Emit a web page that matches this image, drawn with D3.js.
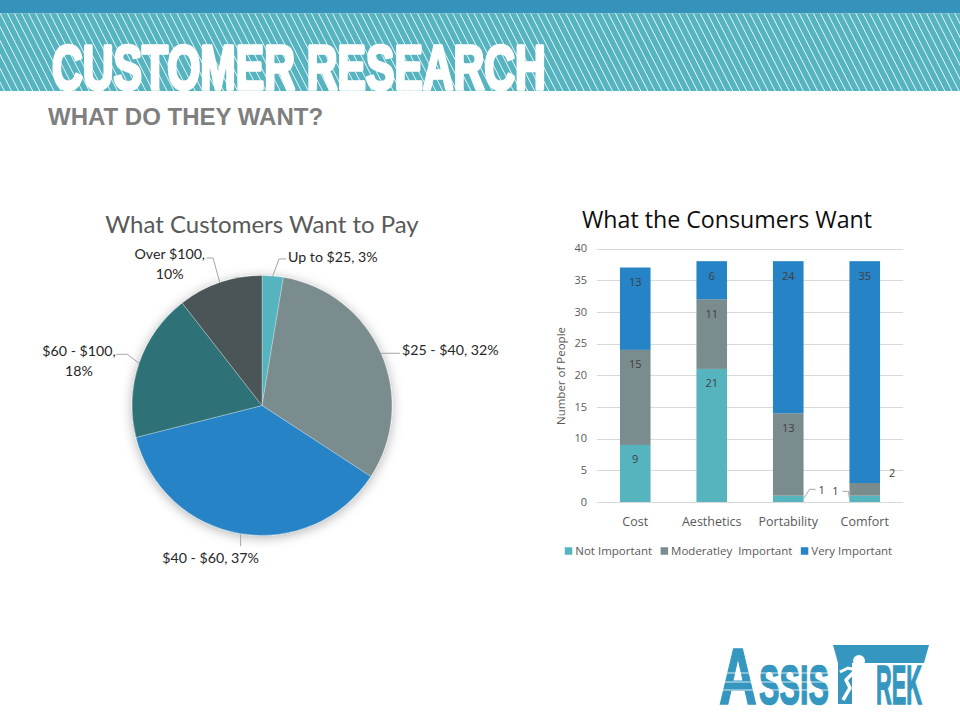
<!DOCTYPE html>
<html><head><meta charset="utf-8">
<script src="https://cdn.jsdelivr.net/npm/d3@7/dist/d3.min.js"></script>
<style>body{margin:0;background:#fff;} svg{display:block}</style>
</head><body>
<svg id="c" width="960" height="720"></svg>
<script>
// ---------------- DATA ----------------
const pageTitle = "CUSTOMER RESEARCH";
const pageSubtitle = "WHAT DO THEY WANT?";

const pieTitle = "What Customers Want to Pay";
const pieCategories = ["Up to $25", "$25 - $40", "$40 - $60", "$60 - $100", "Over $100"];
const pieCounts = [1, 12, 14, 7, 4];                 // slice sizes
const piePercentLabels = ["3%", "32%", "37%", "18%", "10%"]; // as printed

const barTitle = "What the Consumers Want";
const barCategories = ["Cost", "Aesthetics", "Portability", "Comfort"];
const seriesNames = ["Not Important", "Moderatley  Important", "Very Important"];
const notImportant = [9, 21, 1, 1];
const moderatelyImportant = [15, 11, 13, 2];
const veryImportant = [13, 6, 24, 35];
const yTicks = [0, 5, 10, 15, 20, 25, 30, 35, 40];
const yAxisTitle = "Number of People";

// ---------------- STYLE / LAYOUT ----------------
const pieColors = ["#56b4bf", "#7a8c8e", "#2683c6", "#2e7177", "#495457"];
const barColors = ["#56b4bf", "#7a8c8e", "#2683c6"];
const pieLabelLayout = [
  {leader: [[0,0],[6.3,-17],[13.3,-17]], text: [15.3,-14], anchor: "start", lines: 1},
  {leader: [[0,0],[19,0]], text: [21,1.5], anchor: "start", lines: 1},
  {leader: [[0,0],[0,12.5]], text: [-30,29.5], anchor: "middle", lines: 1},
  {leader: [[0,0],[-11.7,-9],[-23,-9]], text: [-60,-7.4], anchor: "middle", lines: 2},
  {leader: [[0,0],[-6.7,-24.5],[-13,-24.5]], text: [-50,-24], anchor: "middle", lines: 2}
];

const svg = d3.select("#c");
const defs = svg.append("defs");

// hatch pattern
const pat = defs.append("pattern").attr("id", "hatch")
  .attr("patternUnits", "userSpaceOnUse").attr("width", 6.3).attr("height", 20)
  .attr("patternTransform", "rotate(-27)");
pat.append("rect").attr("width", 6.3).attr("height", 20).attr("fill", "#56b4c0");
pat.append("rect").attr("x", 0).attr("width", 0.9).attr("height", 20).attr("fill", "#ffffff").attr("opacity", 0.85);

// pie shadow
const f = defs.append("filter").attr("id", "pshadow").attr("x", "-30%").attr("y", "-30%").attr("width", "160%").attr("height", "160%");
f.append("feDropShadow").attr("dx", 0).attr("dy", 2).attr("stdDeviation", 6)
  .attr("flood-color", "#000").attr("flood-opacity", 0.3);

// ---------------- HEADER ----------------
svg.append("rect").attr("x", 0).attr("y", 0).attr("width", 960).attr("height", 13.5).attr("fill", "#3593bb");
svg.append("rect").attr("x", 0).attr("y", 13.5).attr("width", 960).attr("height", 77.5).attr("fill", "url(#hatch)");
const titleT = svg.append("text").attr("x", 0).attr("y", 0)
  .attr("font-family", "'Liberation Sans', Arial, sans-serif").attr("font-weight", "bold")
  .attr("font-size", 63).attr("fill", "#fff").attr("stroke", "#fff").attr("stroke-width", 3.6)
  .attr("stroke-linejoin", "round")
  .text(pageTitle);
{
  const w = titleT.node().getComputedTextLength();
  const sx = 494 / w;
  titleT.attr("transform", `translate(52,89.3) scale(${sx},1)`);
}
svg.append("text").attr("x", 48).attr("y", 125)
  .attr("font-family", "'Liberation Sans', Arial, sans-serif").attr("font-weight", "bold")
  .attr("font-size", 24).attr("fill", "#7f7f7f")
  .text(pageSubtitle);

// ---------------- PIE ----------------
const pcx = 262, pcy = 405.5, pr = 130;
const pieG = svg.append("g").attr("transform", `translate(${pcx},${pcy})`);
const pieGen = d3.pie().sort(null).value(d => d);
const arcs = pieGen(pieCounts);
const arcGen = d3.arc().innerRadius(0).outerRadius(pr);
const slices = pieG.append("g").attr("filter", "url(#pshadow)");
slices.selectAll("path").data(arcs).join("path")
  .attr("d", arcGen)
  .attr("fill", (d, i) => pieColors[i])
  .attr("stroke", "#ffffff").attr("stroke-width", 0.6).attr("stroke-opacity", 0.5);

svg.append("text").attr("x", pcx).attr("y", 233).attr("text-anchor", "middle")
  .attr("font-family", "Lato, 'Open Sans', sans-serif").attr("font-size", 24).attr("fill", "#595959")
  .text(pieTitle);

arcs.forEach((a, i) => {
  const mid = (a.startAngle + a.endAngle) / 2;
  const px = pcx + pr * Math.sin(mid), py = pcy - pr * Math.cos(mid);
  const L = pieLabelLayout[i];
  svg.append("polyline")
    .attr("points", L.leader.map(p => [px + p[0], py + p[1]].join(",")).join(" "))
    .attr("fill", "none").attr("stroke", "#a6a6a6").attr("stroke-width", 1);
  const t = svg.append("text").attr("x", px + L.text[0]).attr("y", py + L.text[1])
    .attr("text-anchor", L.anchor)
    .attr("font-family", "Lato, 'Open Sans', sans-serif").attr("font-size", 14.2).attr("fill", "#262626");
  if (L.lines === 1) {
    t.text(`${pieCategories[i]}, ${piePercentLabels[i]}`);
  } else {
    t.append("tspan").attr("x", px + L.text[0]).text(`${pieCategories[i]},`);
    t.append("tspan").attr("x", px + L.text[0]).attr("dy", 20).text(piePercentLabels[i]);
  }
});

// ---------------- STACKED BAR ----------------
const font2 = "'Open Sans', 'Noto Sans', sans-serif";
const x = d3.scaleBand().domain(barCategories).range([597, 903]).padding(0);
const y = d3.scaleLinear().domain([0, 40]).range([502, 248.5]);
const barW = x.bandwidth() / 2.5;

svg.append("text").attr("x", 727).attr("y", 228).attr("text-anchor", "middle")
  .attr("font-family", font2).attr("font-size", 23.2).attr("fill", "#0d0d0d").text(barTitle);

const grid = svg.append("g");
grid.selectAll("line").data(yTicks).join("line")
  .attr("x1", 597).attr("x2", 903)
  .attr("y1", d => Math.round(y(d)) + 0.5).attr("y2", d => Math.round(y(d)) + 0.5)
  .attr("stroke", "#d9d9d9").attr("stroke-width", 1);
grid.selectAll("text").data(yTicks).join("text")
  .attr("x", 587).attr("y", d => y(d)).attr("dy", "0.35em").attr("text-anchor", "end")
  .attr("font-family", font2).attr("font-size", 11).attr("fill", "#595959")
  .text(d => d);

const rows = barCategories.map((c, i) => ({
  cat: c, s0: notImportant[i], s1: moderatelyImportant[i], s2: veryImportant[i]
}));
const keys = ["s0", "s1", "s2"];
const stacked = d3.stack().keys(keys)(rows);

const barsG = svg.append("g");
stacked.forEach((layer, li) => {
  barsG.append("g").selectAll("rect").data(layer).join("rect")
    .attr("x", d => x(d.data.cat) + x.bandwidth() / 2 - barW / 2)
    .attr("width", barW)
    .attr("y", d => y(d[1]))
    .attr("height", d => y(d[0]) - y(d[1]))
    .attr("fill", barColors[li]);
});

// data labels
const smallLabelLayout = {
  "Portability|0": {side: 1, leader: [[0, 0], [6, -9.5], [12, -9.5]], text: [18, -8.5]},
  "Comfort|0": {side: -1, leader: [[0, 0], [-1, -7.5], [-7, -7.5]], text: [-14, -7.5]},
  "Comfort|1": {side: 1, leader: null, text: [12, -16.5]}
};
const labG = svg.append("g").attr("font-family", font2).attr("font-size", 11).attr("fill", "#404040")
  .attr("text-anchor", "middle");
stacked.forEach((layer, li) => {
  layer.forEach(d => {
    const v = d[1] - d[0];
    const cx = x(d.data.cat) + x.bandwidth() / 2;
    const key = d.data.cat + "|" + li;
    const sl = smallLabelLayout[key];
    if (!sl) {
      labG.append("text").attr("x", cx).attr("y", y(d[1]) + 14.5).attr("dy", "0.35em").text(v);
    } else {
      const ax = cx + sl.side * barW / 2, ay = y((d[0] + d[1]) / 2);
      if (sl.leader) {
        svg.append("polyline")
          .attr("points", sl.leader.map(p => [ax + p[0], ay + p[1]].join(",")).join(" "))
          .attr("fill", "none").attr("stroke", "#a6a6a6").attr("stroke-width", 1);
      }
      labG.append("text").attr("x", ax + sl.text[0]).attr("y", ay + sl.text[1]).attr("dy", "0.35em").text(v);
    }
  });
});

// category labels
svg.append("g").selectAll("text").data(barCategories).join("text")
  .attr("x", d => x(d) + x.bandwidth() / 2).attr("y", 526).attr("text-anchor", "middle")
  .attr("font-family", font2).attr("font-size", 12.5).attr("fill", "#595959").text(d => d);

// y axis title
svg.append("text").attr("transform", "translate(565,376) rotate(-90)").attr("text-anchor", "middle")
  .attr("font-family", font2).attr("font-size", 11.5).attr("fill", "#595959").text(yAxisTitle);

// legend
const legG = svg.append("g");
let lx = 0;
seriesNames.forEach((n, i) => {
  const g = legG.append("g");
  g.append("rect").attr("x", 0).attr("y", -3.75).attr("width", 7.5).attr("height", 7.5).attr("fill", barColors[i]);
  const t = g.append("text").attr("x", 10.5).attr("y", 0).attr("dy", "0.35em")
    .attr("font-family", font2).attr("font-size", 11.5).attr("fill", "#595959")
    .style("white-space", "pre").text(n);
  const w = 10.5 + t.node().getComputedTextLength();
  g.attr("transform", `translate(${lx},0)`);
  lx += w + 8.5;
});
const legW = lx - 8.5;
legG.attr("transform", `translate(${728.5 - legW / 2},551)`);

// ---------------- LOGO ----------------
const logoC = "#3597c0";
const logo = svg.append("g");
function logoText(str, x0, w, size) {
  const t = logo.append("text").attr("x", 0).attr("y", 0)
    .attr("font-family", "'Liberation Sans', Arial, sans-serif").attr("font-weight", "bold")
    .attr("font-size", size).attr("fill", logoC).attr("stroke", logoC).attr("stroke-width", 1.5)
    .text(str);
  const tw = t.node().getComputedTextLength();
  t.attr("transform", `translate(${x0},703.5) scale(${w / tw},1)`);
}
logoText("A", 719, 38, 80);
logoText("SSIS", 759, 70, 56);
logoText("REK", 876, 46, 56);
logo.append("polygon").attr("points", "833,645 929,645 924,663 852,663 852,704 838,704 838,663")
  .attr("fill", logoC);
logo.append("circle").attr("cx", 859).attr("cy", 661).attr("r", 6).attr("fill", "#fff");
logo.append("polyline").attr("points", "843,700 850,688 846,680 856,670 862,682 870,690")
  .attr("fill", "none").attr("stroke", "#fff").attr("stroke-width", 3.5).attr("stroke-linejoin", "round");
logo.append("polyline").attr("points", "840,672 848,668 856,670")
  .attr("fill", "none").attr("stroke", "#fff").attr("stroke-width", 3);
[673, 682, 690].forEach(yy => {
  logo.append("line").attr("x1", 705).attr("x2", 830).attr("y1", yy).attr("y2", yy)
    .attr("stroke", "#fff").attr("stroke-width", 1.2).attr("opacity", 0.8);
});
</script>
</body></html>
